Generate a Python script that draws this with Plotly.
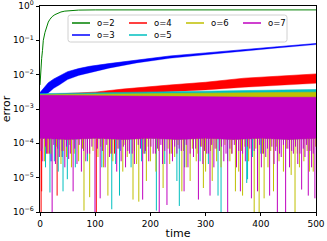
import plotly.graph_objects as go

# ---------------- data ----------------
# o=2 (green): fast rise then saturation
t_o2 = [0, 1, 2, 3, 4.5, 6, 9, 12, 15, 18, 22, 27, 32, 38, 45, 55, 70, 100, 200, 300, 400, 500]
e_o2 = [5e-3, 0.012, 0.02, 0.03, 0.05, 0.1, 0.17, 0.26, 0.34, 0.41, 0.49, 0.56, 0.62, 0.67,
        0.71, 0.74, 0.76, 0.77, 0.77, 0.77, 0.77, 0.77]

# o=3 (blue): oscillating band (upper / lower envelope)
t_o3 = [0, 3, 8, 15, 25, 35, 50, 70, 90, 125, 175, 235, 300, 360, 430, 500]
o3_hi = [3.0e-3, 3.4e-3, 4.5e-3, 5.8e-3, 7.5e-3, 9.0e-3, 0.0122, 0.015, 0.0175, 0.021,
         0.027, 0.035, 0.043, 0.053, 0.065, 0.081]
o3_lo = [2.2e-3, 2.4e-3, 2.6e-3, 2.9e-3, 4.0e-3, 5.0e-3, 7.2e-3, 9.5e-3, 0.0115, 0.0155,
         0.022, 0.030, 0.038, 0.048, 0.060, 0.075]

# o=4 (red): oscillating band
t_o4 = [0, 50, 100, 150, 200, 235, 300, 370, 430, 500]
o4_hi = [2.6e-3, 2.8e-3, 3.1e-3, 3.8e-3, 4.6e-3, 5.0e-3, 6.0e-3, 7.9e-3, 9.0e-3, 1.05e-2]
o4_lo = [1.8e-3, 1.9e-3, 2.1e-3, 2.5e-3, 3.0e-3, 3.2e-3, 3.6e-3, 4.3e-3, 4.9e-3, 5.6e-3]

# o=5, o=6, o=7: dense oscillation bodies (top envelope, common bottom)
t_body = [0, 50, 100, 150, 200, 250, 300, 350, 400, 450, 500]
o5_hi = [2.8e-3, 2.9e-3, 2.9e-3, 3.0e-3, 3.1e-3, 3.2e-3, 3.3e-3, 3.4e-3, 3.5e-3, 3.6e-3, 3.7e-3]
o6_hi = [2.6e-3, 2.65e-3, 2.7e-3, 2.75e-3, 2.8e-3, 2.85e-3, 2.9e-3, 2.95e-3, 3.0e-3, 3.05e-3, 3.1e-3]
o7_hi = [2.5e-3, 2.45e-3, 2.4e-3, 2.4e-3, 2.35e-3, 2.3e-3, 2.3e-3, 2.25e-3, 2.2e-3, 2.2e-3, 2.2e-3]
body_lo = [1.4e-4, 1.3e-4, 1.4e-4, 1.3e-4, 1.4e-4, 1.3e-4, 1.4e-4, 1.3e-4, 1.4e-4, 1.3e-4, 1.4e-4]

# downward spikes (minima of the oscillation): times and values
o3_spk_t = [20, 40, 145, 190]
o3_spk_v = [3e-5, 4e-5, 6e-5, 5e-5]

o4_spk_t = [2, 3, 13, 31, 102, 135]
o4_spk_v = [1e-6, 4e-6, 5e-5, 3e-6, 1e-6, 5e-5]

o5_spk_t = [10, 18, 26, 33, 41.7, 49.5, 64, 86, 112, 130, 137, 144, 165, 184, 210.8, 226,
            248, 252.4, 262, 290, 305, 322.5, 328, 340, 374.5, 376, 385, 400]
o5_spk_v = [2e-5, 3.7e-6, 3e-5, 1.5e-5, 4e-6, 9e-6, 2e-5, 3e-5, 2e-5, 1.2e-6, 2.5e-5, 3e-6,
            2e-5, 3e-5, 1.1e-6, 2.5e-5, 8e-6, 1.5e-6, 2e-5, 3e-5, 2.5e-5, 3e-6, 1e-6, 3e-5,
            7e-6, 9e-6, 4e-5, 5e-5]

o6_spk_t = [8, 15, 38, 48, 57, 70, 79.7, 90, 105, 115, 123, 132, 150, 158, 168.5, 175, 179,
            192.7, 200, 210, 223, 235, 244, 257, 265, 272, 283, 296, 300, 312, 320, 328,
            344, 354, 360, 367, 378, 388, 397, 406, 413, 423, 433, 441, 455, 462, 470, 478,
            488, 495]
o6_spk_v = [3e-5, 5e-5, 2.5e-5, 4e-5, 2e-5, 3e-5, 1.1e-6, 2.7e-6, 4e-5, 2e-5, 3e-6, 3e-5,
            1.5e-5, 4e-5, 2.3e-6, 2.5e-5, 2e-6, 8e-6, 3e-5, 1.5e-5, 5e-6, 2.5e-5, 4e-5, 4e-6,
            2e-5, 8e-6, 3e-5, 5e-6, 1.5e-5, 8e-6, 3e-5, 2e-5, 3e-5, 4e-6, 1.5e-5, 3e-6, 3e-5,
            1e-6, 1e-6, 2.5e-6, 2e-5, 4e-6, 3e-5, 1.5e-5, 1.2e-5, 1e-6, 2e-5, 3e-5, 1.5e-5,
            1.5e-5]
# shallow minima of o=6 just below the dense body
o6_short_t = [4, 20, 30, 43, 53, 62, 77, 96, 110, 128, 141, 154, 171, 188, 196, 215, 232, 238,
              250, 260, 276, 286, 293, 309, 317, 335, 347, 365, 371, 391, 403, 418, 428, 447,
              466, 484, 499]
o6_short_v = [7e-5, 5e-5, 8e-5, 6e-5, 9e-5, 5e-5, 7e-5, 6e-5, 8e-5, 5e-5, 7e-5, 9e-5, 6e-5,
              5e-5, 8e-5, 6e-5, 7e-5, 5e-5, 9e-5, 6e-5, 7e-5, 5e-5, 8e-5, 6e-5, 7e-5, 9e-5,
              5e-5, 6e-5, 8e-5, 7e-5, 5e-5, 6e-5, 8e-5, 7e-5, 5e-5, 6e-5, 8e-5]

o7_spk_t = [5, 12, 22, 28, 35, 45, 52, 60, 67, 75, 83, 90, 99.6, 109, 118, 126, 139, 147,
            155, 162, 171, 186, 197, 205, 216, 222, 230, 240, 248, 261, 268, 278, 287, 295,
            302, 308, 315, 333, 340, 348, 356, 363, 372, 383, 394, 401, 409, 416, 424, 430,
            437, 445, 452, 459, 467, 474, 480, 486, 492, 498]
o7_spk_v = [3e-5, 5e-5, 1e-6, 2.5e-5, 4e-5, 2e-5, 3.5e-5, 4e-6, 2.5e-5, 1.5e-5, 3e-5, 5e-5,
            1e-6, 2.5e-6, 2e-5, 4e-5, 1.5e-5, 3e-5, 2e-5, 5e-5, 2.5e-5, 2.3e-6, 3e-5, 5e-5,
            1e-6, 2.5e-5, 1.6e-6, 3e-5, 5e-5, 4e-6, 2e-5, 4e-5, 2.3e-6, 2.5e-5, 5e-5, 3e-6,
            2e-5, 3e-5, 1e-6, 5e-5, 2e-5, 4e-6, 3e-5, 2.5e-6, 4e-6, 2e-5, 4e-5, 3e-6, 2.5e-5,
            1e-6, 4e-5, 1e-6, 2e-5, 5e-5, 2.5e-5, 4.5e-6, 4e-5, 3e-6, 2e-5, 2.5e-6]
# shallow minima of o=7 just below the dense body
o7_short_t = [2, 10, 17, 25, 32, 40, 48, 55, 63, 71, 79, 86, 94, 104, 113, 121, 130, 143, 151,
              159, 167, 178, 182, 191, 201, 209, 213, 219, 226, 235, 244, 252, 256, 265, 272,
              282, 291, 298, 305, 311, 319, 325, 329, 337, 344, 352, 360, 367, 376, 380, 388,
              398, 405, 412, 420, 427, 434, 441, 449, 456, 463, 471, 477, 483, 489, 495]
o7_short_v = [6e-5, 8e-5, 5e-5, 9e-5, 7e-5, 6e-5, 8e-5, 5e-5, 7e-5, 9e-5, 6e-5, 5e-5, 8e-5,
              7e-5, 6e-5, 9e-5, 5e-5, 7e-5, 8e-5, 6e-5, 5e-5, 9e-5, 7e-5, 6e-5, 8e-5, 5e-5,
              7e-5, 9e-5, 6e-5, 5e-5, 8e-5, 7e-5, 6e-5, 9e-5, 5e-5, 7e-5, 8e-5, 6e-5, 5e-5,
              9e-5, 7e-5, 6e-5, 8e-5, 5e-5, 7e-5, 9e-5, 6e-5, 5e-5, 8e-5, 7e-5, 6e-5, 9e-5,
              5e-5, 7e-5, 8e-5, 6e-5, 5e-5, 9e-5, 7e-5, 6e-5, 8e-5, 5e-5, 7e-5, 9e-5, 6e-5, 5e-5]

names = ["o=2", "o=3", "o=4", "o=5", "o=6", "o=7"]
colors = ["#008000", "#0000ff", "#ff0000", "#00bfbf", "#bfbf00", "#bf00bf"]
# legend columns (column-major, as in the reference)
legend_cols = [["o=2", "o=3"], ["o=4", "o=5"], ["o=6"], ["o=7"]]

y_ticks = [1e-6, 1e-5, 1e-4, 1e-3, 1e-2, 1e-1, 1]
y_ticktext = ["10<sup>−6</sup>", "10<sup>−5</sup>", "10<sup>−4</sup>", "10<sup>−3</sup>",
              "10<sup>−2</sup>", "10<sup>−1</sup>", "10<sup>0</sup>"]
x_ticks = [0, 100, 200, 300, 400, 500]

# ---------------- figure ----------------
W, H = 327, 241
ML, MR, MT, MB = 40, 11, 6, 29
PW, PH = W - ML - MR, H - MT - MB

fig = go.Figure()


def add_band(t, lo, hi, color, name):
    fig.add_trace(go.Scatter(x=t, y=lo, mode="lines", line=dict(color=color, width=0.3),
                             showlegend=False, hoverinfo="skip", legendgroup=name))
    fig.add_trace(go.Scatter(x=t, y=hi, mode="lines", line=dict(color=color, width=0.6),
                             fill="tonexty", fillcolor=color, showlegend=False,
                             hoverinfo="skip", legendgroup=name, name=name))


def add_spikes(ts, vs, top, color, name):
    xs, ys = [], []
    for t, v in zip(ts, vs):
        xs += [t, t, None]
        ys += [top, v, None]
    fig.add_trace(go.Scatter(x=xs, y=ys, mode="lines", line=dict(color=color, width=1),
                             showlegend=False, hoverinfo="skip", connectgaps=False,
                             legendgroup=name))


# o=2
fig.add_trace(go.Scatter(x=t_o2, y=e_o2, mode="lines", line=dict(color=colors[0], width=1),
                         showlegend=False, hoverinfo="skip", name="o=2"))
# o=3
add_band(t_o3, o3_lo, o3_hi, colors[1], "o=3")
add_spikes(o3_spk_t, o3_spk_v, 1.5e-4, colors[1], "o=3")
# o=4
add_band(t_o4, o4_lo, o4_hi, colors[2], "o=4")
add_spikes(o4_spk_t, o4_spk_v, 1.5e-4, colors[2], "o=4")
# o=5
add_band(t_body, body_lo, o5_hi, colors[3], "o=5")
add_spikes(o5_spk_t, o5_spk_v, 1.5e-4, colors[3], "o=5")
# o=6
add_band(t_body, body_lo, o6_hi, colors[4], "o=6")
add_spikes(o6_short_t, o6_short_v, 1.5e-4, colors[4], "o=6")
add_spikes(o6_spk_t, o6_spk_v, 1.5e-4, colors[4], "o=6")
# o=7
add_band(t_body, body_lo, o7_hi, colors[5], "o=7")
add_spikes(o7_short_t, o7_short_v, 1.5e-4, colors[5], "o=7")
add_spikes(o7_spk_t, o7_spk_v, 1.5e-4, colors[5], "o=7")

# ---------------- legend (matplotlib style: 4 columns, compact rows) ----------------
def px2paper(px, py):
    return (px - ML) / PW, (MT + PH - py) / PH


box_l, box_r, box_t, box_b = 68, 287, 15, 42
x0, y0 = px2paper(box_l, box_b)
x1, y1 = px2paper(box_r, box_t)
rx, ry = 2.5 / PW, 2.5 / PH
path = (f"M {x0+rx},{y0} L {x1-rx},{y0} Q {x1},{y0} {x1},{y0+ry} L {x1},{y1-ry} "
        f"Q {x1},{y1} {x1-rx},{y1} L {x0+rx},{y1} Q {x0},{y1} {x0},{y1-ry} "
        f"L {x0},{y0+ry} Q {x0},{y0} {x0+rx},{y0} Z")
shapes = [dict(type="path", xref="paper", yref="paper", path=path,
               fillcolor="rgba(255,255,255,0.8)", line=dict(color="#d0d0d0", width=1),
               layer="above")]
annotations = []
col_x = [72, 129, 186, 243]
row_y = [23, 35]
for ci, col in enumerate(legend_cols):
    for ri, nm in enumerate(col):
        c = colors[names.index(nm)]
        lx0, ly = px2paper(col_x[ci], row_y[ri])
        lx1, _ = px2paper(col_x[ci] + 18, row_y[ri])
        shapes.append(dict(type="line", xref="paper", yref="paper", x0=lx0, x1=lx1,
                           y0=ly, y1=ly, line=dict(color=c, width=1.5), layer="above"))
        tx, _ = px2paper(col_x[ci] + 23, row_y[ri])
        annotations.append(dict(x=tx, y=ly, xref="paper", yref="paper", text=nm,
                                showarrow=False, xanchor="left", yanchor="middle",
                                font=dict(size=8.5, color="black")))

axis_common = dict(showline=True, mirror=True, linecolor="black", linewidth=0.8,
                   ticks="outside", ticklen=3.5, tickwidth=0.8, tickcolor="black",
                   showgrid=False, zeroline=False, automargin=False,
                   ticklabeloverflow="allow")

fig.update_layout(
    width=W, height=H,
    margin=dict(l=ML, r=MR, t=MT, b=MB),
    paper_bgcolor="white", plot_bgcolor="white",
    font=dict(family="DejaVu Sans", size=9, color="black"),
    showlegend=False,
    shapes=shapes,
    annotations=annotations,
    xaxis=dict(range=[0, 500], tickvals=x_ticks, title=dict(text="time", standoff=1),
               **axis_common),
    yaxis=dict(type="log", range=[-6, 0], tickvals=y_ticks, ticktext=y_ticktext,
               title=dict(text="error", standoff=3), **axis_common),
)

fig.write_html("out.html", config={"displayModeBar": False},
               post_script="document.body.style.margin='0';document.body.style.padding='0';")
